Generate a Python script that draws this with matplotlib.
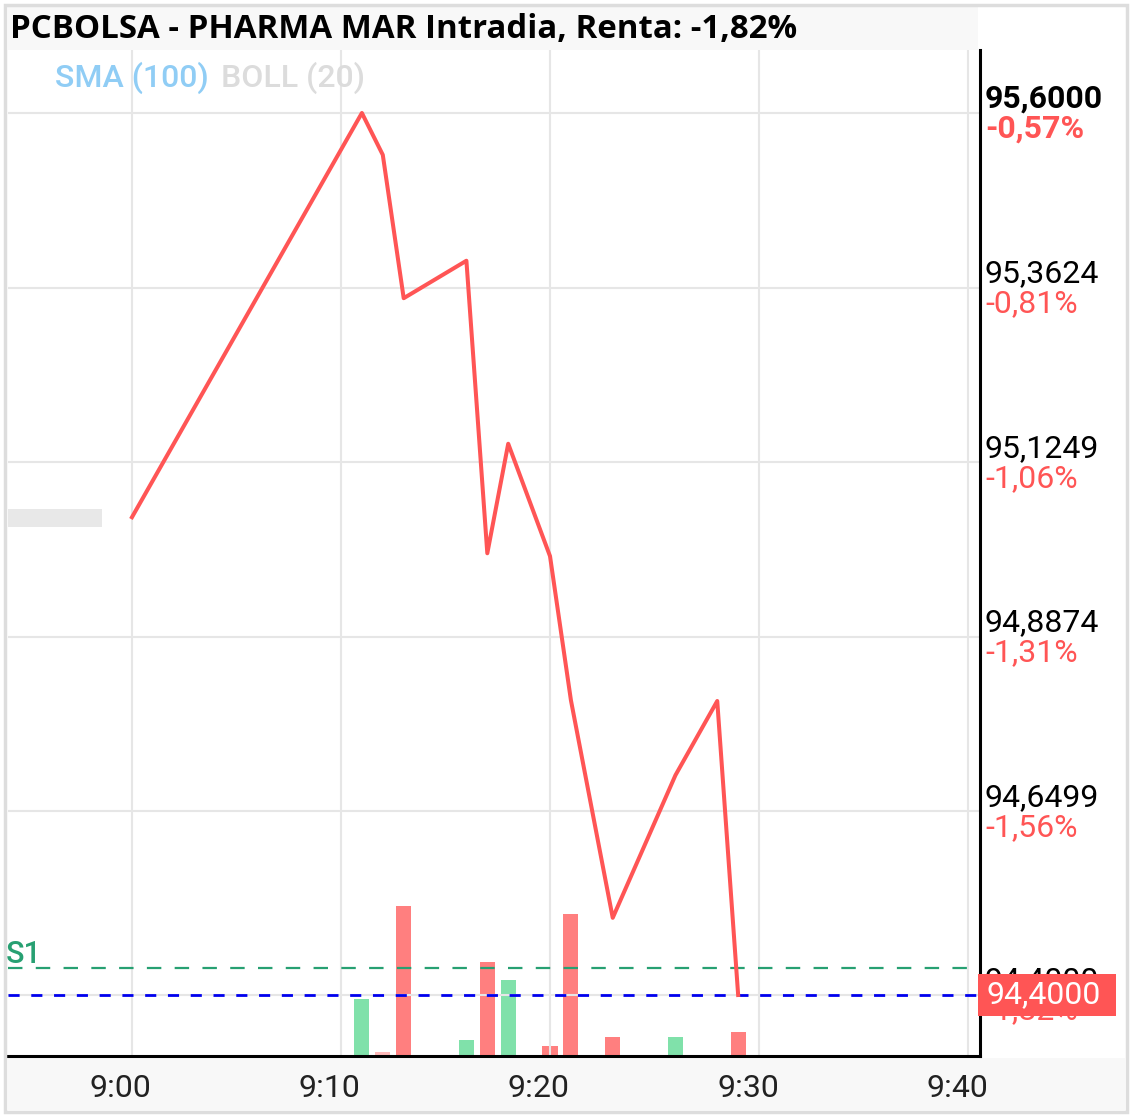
import matplotlib.pyplot as plt
from matplotlib.patches import Rectangle


# datos (minutos desde las 9:00)
minutos = [0, 11, 12, 13, 16, 17, 18, 20, 21, 23, 26, 28, 29]
precios = [95.050, 95.600, 95.543, 95.348, 95.399, 95.001, 95.150,
           94.997, 94.801, 94.505, 94.699, 94.800, 94.400]

minutos_vol = [11, 12, 13, 16, 17, 18, 20, 21, 23, 26, 29]
volumen = [570, 40, 1500, 160, 940, 760, 100, 1420, 190, 190, 240]
tipo_vol = ["sube", "igual", "baja", "sube", "baja", "sube",
            "baja", "baja", "baja", "sube", "baja"]

niveles = [95.6000, 95.3624, 95.1249, 94.8874, 94.6499, 94.4000]
etiquetas_precio = ["95,6000", "95,3624", "95,1249", "94,8874", "94,6499", "94,4000"]
etiquetas_renta = ["-0,57%", "-0,81%", "-1,06%", "-1,31%", "-1,56%", "-1,82%"]

horas = [0, 10, 20, 30, 40]
etiquetas_horas = ["9:00", "9:10", "9:20", "9:30", "9:40"]

soporte_s1 = 94.437
ultimo = 94.40

titulo = "PCBOLSA - PHARMA MAR Intradia, Renta: -1,82%"

ROJO = "#ff5555"
COLORES_VOL = {"sube": "#80e1aa", "baja": "#ff7f7f", "igual": "#ffb9b9"}

ANCHO, ALTO = 1133, 1118

fig = plt.figure(figsize=(ANCHO / 100, ALTO / 100), dpi=100)


def px_rect(x0, y0, x1, y1, **kw):
    # rectangulo en pixeles (origen arriba a la izquierda)
    fig.patches.append(Rectangle(
        (x0 / ANCHO, 1 - y1 / ALTO),
        (x1 - x0) / ANCHO,
        (y1 - y0) / ALTO,
        transform=fig.transFigure,
        **kw
    ))


# marco y bandas grises
px_rect(8, 6, 978, 50, facecolor="#f8f8f8", edgecolor="none", zorder=0)
px_rect(8, 1058, 1125, 1110, facecolor="#f8f8f8", edgecolor="none", zorder=0)
px_rect(5, 5, 1127, 1112, facecolor="none", edgecolor="#dddddd",
        linewidth=2.5, zorder=5)
px_rect(8, 509, 102, 527, facecolor="#e8e8e8", edgecolor="none", zorder=3)

izq, der, arriba, abajo = 8, 980, 50, 1056
rect = [izq / ANCHO, 1 - abajo / ALTO, (der - izq) / ANCHO, (abajo - arriba) / ALTO]

ax = fig.add_axes(rect)
vax = ax.twinx()
ax.set_zorder(vax.get_zorder() + 1)
ax.patch.set_visible(False)

# volumen
vax.bar(
    minutos_vol,
    volumen,
    width=0.72,
    color=[COLORES_VOL[t] for t in tipo_vol],
    zorder=2
)
vax.set_ylim(0, 10060)
vax.set_yticks([])
for s in vax.spines.values():
    s.set_visible(False)

# precio
ax.plot(minutos, precios, color=ROJO, linewidth=2.9, zorder=5)
ax.axhline(soporte_s1, color="#27a072", linewidth=1.6,
           linestyle=(0, (6.5, 6.0)), zorder=4)
ax.axhline(ultimo, color="#0000ee", linewidth=2.0,
           linestyle=(0, (4.0, 4.2)), zorder=4)

ax.set_xlim(-5.93, 40.57)
ax.set_ylim(94.317, 95.6857)

# rejilla en ticks menores, etiquetas de hora algo a la izquierda
ax.set_yticks(niveles)
ax.set_yticklabels([])
ax.set_xticks(horas, minor=True)
ax.set_xticks([h - 0.53 for h in horas])
ax.set_xticklabels(etiquetas_horas, family="Roboto", fontsize=23, color="#222222")
ax.tick_params(which="both", length=0, pad=13)
ax.grid(True, axis="y", color="#e6e6e6", linewidth=1.5, zorder=0)
ax.grid(True, axis="x", which="minor", color="#e6e6e6", linewidth=1.5, zorder=0)
ax.set_axisbelow(True)

for lado in ["left", "top"]:
    ax.spines[lado].set_visible(False)
for lado in ["right", "bottom"]:
    ax.spines[lado].set_linewidth(2.2)
    ax.spines[lado].set_color("black")

# etiquetas del eje derecho
for i, (nivel, etq, renta) in enumerate(zip(niveles, etiquetas_precio, etiquetas_renta)):
    peso = "bold" if i == 0 else "normal"
    ax.annotate(etq, xy=(1, nivel), xycoords=("axes fraction", "data"),
                xytext=(5, 14), textcoords="offset pixels",
                ha="left", va="center", family="Roboto", fontsize=23,
                fontweight=peso, color="black", annotation_clip=False)
    ax.annotate(renta, xy=(1, nivel), xycoords=("axes fraction", "data"),
                xytext=(5, -16), textcoords="offset pixels",
                ha="left", va="center", family="Roboto", fontsize=23,
                fontweight=peso, color=ROJO, annotation_clip=False)

# caja del ultimo precio
caja = Rectangle((0.998, ultimo - 0.0283), 0.142, 0.0566,
                 transform=ax.get_yaxis_transform(), facecolor=ROJO,
                 edgecolor="none", clip_on=False, zorder=9)
ax.add_patch(caja)
ax.annotate(etiquetas_precio[-1], xy=(1, ultimo), xycoords=("axes fraction", "data"),
            xytext=(6, 0), textcoords="offset pixels",
            ha="left", va="center", family="Roboto", fontsize=23,
            color="white", annotation_clip=False, zorder=10)

ax.annotate("S1", xy=(0, soporte_s1), xycoords=("axes fraction", "data"),
            xytext=(-2, 5), textcoords="offset pixels",
            ha="left", va="baseline", family="Roboto", fontsize=22,
            color="#27a072", fontweight="medium", annotation_clip=False)

# leyenda de indicadores
fig.text(55 / ANCHO, 1 - 78 / ALTO, "SMA (100)", family="Roboto", fontsize=23,
         fontweight="medium", color="#90cdf5", ha="left", va="center")
fig.text(221 / ANCHO, 1 - 78 / ALTO, "BOLL (20)", family="Roboto", fontsize=23,
         fontweight="medium", color="#dcdcdc", ha="left", va="center")

# titulo
fig.text(10 / ANCHO, 1 - 29 / ALTO, titulo, family="Open Sans", fontsize=23.8,
         fontweight="bold", color="black", ha="left", va="center")

fig.savefig("out.png", dpi=100)
